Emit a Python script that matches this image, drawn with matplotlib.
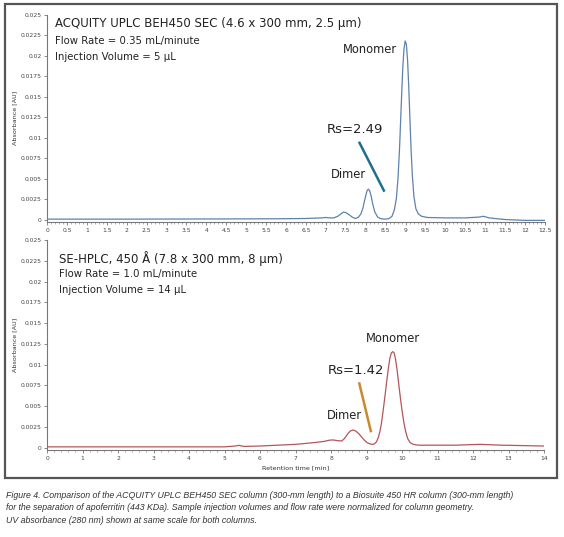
import matplotlib
matplotlib.use('Agg')
import matplotlib.pyplot as plt
from matplotlib.patches import Rectangle
from matplotlib.ticker import MultipleLocator, FuncFormatter

# top trace: ACQUITY UPLC BEH450 SEC
uplc_time = [0, 1, 2, 3, 4, 5, 6, 6.5, 6.9, 7.0, 7.1, 7.2, 7.3, 7.38, 7.44, 7.5,
             7.58, 7.66, 7.74, 7.82, 7.88, 7.93, 7.97, 8.01, 8.04, 8.07, 8.10,
             8.14, 8.18, 8.23, 8.30, 8.38, 8.48, 8.58, 8.66, 8.72, 8.77, 8.81,
             8.85, 8.89, 8.93, 8.96, 8.99, 9.02, 9.05, 9.08, 9.11, 9.14, 9.17,
             9.21, 9.26, 9.32, 9.40, 9.55, 10.0, 10.5, 10.85, 10.95, 11.1, 11.5,
             12.0, 12.5]
uplc_abs = [0.00005, 0.00005, 0.00005, 0.00006, 0.00007, 0.00008, 0.0001, 0.00013,
            0.0002, 0.00025, 0.0002, 0.0002, 0.0004, 0.0007, 0.0009, 0.00085,
            0.0006, 0.0003, 0.00012, 0.0003, 0.0007, 0.0014, 0.0023, 0.0031,
            0.0036, 0.0037, 0.0035, 0.0028, 0.0018, 0.0009, 0.0003, 0.0001,
            0.00005, 0.0001, 0.0004, 0.0012, 0.0026, 0.0050, 0.0088, 0.0138,
            0.0185, 0.0208, 0.0218, 0.0214, 0.0195, 0.0162, 0.0122, 0.0084,
            0.0054, 0.0028, 0.0013, 0.0007, 0.0004, 0.00025, 0.0002, 0.0002,
            0.0003, 0.0004, 0.0002, 0.0, -0.0001, -0.0001]

# bottom trace: SE-HPLC 450 A
hplc_time = [0, 2, 4, 5.0, 5.3, 5.4, 5.55, 6.0, 6.5, 7.0, 7.5, 7.8, 7.95, 8.06, 8.18,
             8.3, 8.38, 8.46, 8.54, 8.62, 8.70, 8.78, 8.86, 8.94, 9.02, 9.1, 9.16,
             9.22, 9.28, 9.33, 9.38, 9.42, 9.47, 9.52, 9.57, 9.62, 9.66, 9.70, 9.74,
             9.78, 9.82, 9.86, 9.91, 9.96, 10.0, 10.05, 10.1, 10.16, 10.23, 10.32,
             10.45, 11.0, 11.5, 12.2, 12.8, 14.0]
hplc_abs = [0.0001, 0.0001, 0.0001, 0.0001, 0.0002, 0.00028, 0.00015, 0.0002,
            0.0003, 0.0004, 0.0006, 0.00075, 0.0009, 0.00093, 0.00085, 0.0008,
            0.0011, 0.0016, 0.0020, 0.00213, 0.0020, 0.0017, 0.0013, 0.0009,
            0.0006, 0.00045, 0.0004, 0.00045, 0.0007, 0.0012, 0.0020, 0.0029,
            0.0045, 0.0062, 0.0080, 0.0097, 0.0108, 0.0114, 0.01156, 0.0114,
            0.0106, 0.0094, 0.0076, 0.0058, 0.0045, 0.0031, 0.0020, 0.0011,
            0.0006, 0.0004, 0.0003, 0.0003, 0.0003, 0.0004, 0.0003, 0.0002]

uplc_rs_line = ([7.83, 8.47], [0.0095, 0.0034])
hplc_rs_line = ([8.79, 9.13], [0.00787, 0.00185])

uplc_info = ['ACQUITY UPLC BEH450 SEC (4.6 x 300 mm, 2.5 \u03bcm)',
             'Flow Rate = 0.35 mL/minute', 'Injection Volume = 5 \u03bcL']
hplc_info = ['SE-HPLC, 450 \u00c5 (7.8 x 300 mm, 8 \u03bcm)',
             'Flow Rate = 1.0 mL/minute', 'Injection Volume = 14 \u03bcL']

caption = ('Figure 4. Comparison of the ACQUITY UPLC BEH450 SEC column (300-mm length) to a Biosuite 450 HR column (300-mm length)\n'
           'for the separation of apoferritin (443 KDa). Sample injection volumes and flow rate were normalized for column geometry.\n'
           'UV absorbance (280 nm) shown at same scale for both columns.')

plt.rcParams['font.family'] = 'DejaVu Sans'

fig = plt.figure(figsize=(5.64, 5.37), dpi=100)
fig.patch.set_facecolor('white')
fig.patches.append(Rectangle((5 / 564, 1 - 478 / 537), 552 / 564, 474 / 537,
                             transform=fig.transFigure, fill=False,
                             edgecolor='#555555', linewidth=1.6))

ax1 = fig.add_axes([47 / 564, 0.5866, 498 / 564, 0.386])
ax2 = fig.add_axes([47 / 564, 0.1617, 497 / 564, 0.3914])


def fmt(v, pos):
    s = ('%.4f' % v).rstrip('0').rstrip('.')
    return '0' if s in ('-0', '') else s


for ax in (ax1, ax2):
    for s in ('top', 'right'):
        ax.spines[s].set_visible(False)
    for s in ('left', 'bottom'):
        ax.spines[s].set_color('#777777')
        ax.spines[s].set_linewidth(0.8)
    ax.set_ylim(-0.0003, 0.025)
    ax.yaxis.set_major_locator(MultipleLocator(0.0025))
    ax.yaxis.set_major_formatter(FuncFormatter(fmt))
    ax.xaxis.set_major_formatter(FuncFormatter(fmt))
    ax.tick_params(axis='both', which='major', labelsize=4.3, colors='#777777',
                   labelcolor='#444444', length=2.5, width=0.6, pad=1.5)
    ax.tick_params(axis='both', which='minor', colors='#777777', length=1.5, width=0.4)
    ax.set_ylabel('Absorbance [AU]', fontsize=4.6, color='#333333', labelpad=2)

ax1.set_xlim(0, 12.5)
ax1.xaxis.set_major_locator(MultipleLocator(0.5))
ax1.xaxis.set_minor_locator(MultipleLocator(0.1))
ax2.set_xlim(0, 14)
ax2.xaxis.set_major_locator(MultipleLocator(1))
ax2.xaxis.set_minor_locator(MultipleLocator(0.2))
ax2.set_xlabel('Retention time [min]', fontsize=4.6, color='#333333', labelpad=3)

ax1.plot(uplc_time, uplc_abs, color='#5d82ad', linewidth=0.9)
ax2.plot(hplc_time, hplc_abs, color='#b5555a', linewidth=0.9)
ax1.plot(*uplc_rs_line, color='#1f6f8b', linewidth=1.8, solid_capstyle='butt')
ax2.plot(*hplc_rs_line, color='#c88a2e', linewidth=1.8, solid_capstyle='butt')

ax1.text(8.1, 0.0208, 'Monomer', fontsize=8.3, ha='center', va='center', color='#222222')
ax1.text(7.73, 0.01093, 'Rs=2.49', fontsize=9.5, ha='center', va='center', color='#222222')
ax1.text(7.56, 0.00555, 'Dimer', fontsize=8.3, ha='center', va='center', color='#222222')
ax2.text(9.75, 0.01317, 'Monomer', fontsize=8.3, ha='center', va='center', color='#222222')
ax2.text(8.70, 0.00927, 'Rs=1.42', fontsize=9.5, ha='center', va='center', color='#222222')
ax2.text(8.39, 0.00382, 'Dimer', fontsize=8.3, ha='center', va='center', color='#222222')

for ax, info, x0, ys in ((ax1, uplc_info, 0.016, (0.96, 0.873, 0.796)),
                         (ax2, hplc_info, 0.024, (0.914, 0.838, 0.762))):
    ax.text(x0, ys[0], info[0], transform=ax.transAxes, fontsize=8.5,
            va='center', color='#222222')
    for line, y in zip(info[1:], ys[1:]):
        ax.text(x0, y, line, transform=ax.transAxes, fontsize=7.3,
                va='center', color='#222222')

fig.text(6 / 564, 1 - 508 / 537, caption, fontsize=6.3, style='italic',
         family='Liberation Sans', color='#333333', va='center', ha='left',
         linespacing=1.45)

fig.savefig('out.png', dpi=100)
